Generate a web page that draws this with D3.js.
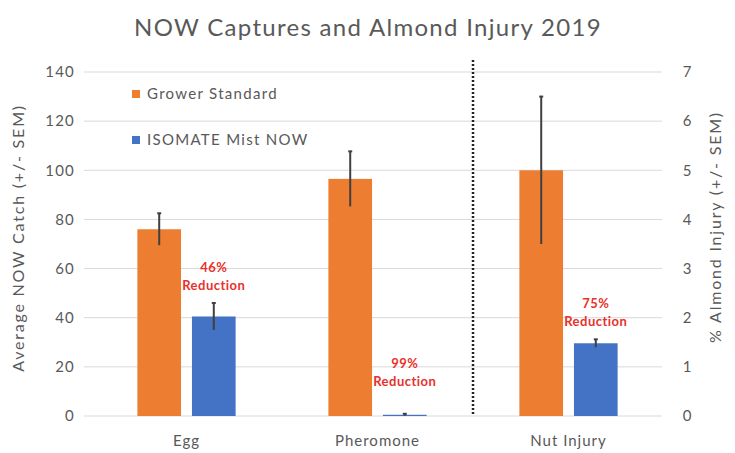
<!DOCTYPE html>
<html>
<head>
<meta charset="utf-8">
<script src="https://cdn.jsdelivr.net/npm/d3@7"></script>
<style>
  body { margin: 0; background: #fff; }
  text { font-family: Lato, "Open Sans", sans-serif; }
</style>
</head>
<body>
<div id="chart"></div>
<script>
// Data
const categories = ["Egg", "Pheromone", "Nut Injury"];
const seriesNames = ["Grower Standard", "ISOMATE Mist NOW"];
const growerValues = [76, 96.5, 5.0];
const growerSEM = [6.5, 11.2, 1.5];
const isomateValues = [40.5, 0.5, 1.48];
const isomateSEM = [5.5, 0.4, 0.08];
const categoryAxis = ["left", "left", "right"];
const reductionLabels = ["46%", "99%", "75%"];
const leftTicks = [0, 20, 40, 60, 80, 100, 120, 140];
const rightTicks = [0, 1, 2, 3, 4, 5, 6, 7];

const W = 735, H = 453;
const colors = ["#ED7D31", "#4472C4"];
const textGray = "#595959";

const svg = d3.select("#chart").append("svg")
  .attr("width", W).attr("height", H);

// Scales
const x0 = d3.scaleBand().domain(categories).range([91, 664]).padding(0);
const x1 = d3.scaleBand().domain(seriesNames)
  .range([0, x0.bandwidth()]).paddingInner(0.2).paddingOuter(0.85);
const yLeft = d3.scaleLinear().domain([0, 140]).range([416, 72]);
const yRight = d3.scaleLinear().domain([0, 7]).range([416, 72]);

// Gridlines
svg.append("g")
  .selectAll("line")
  .data(leftTicks)
  .join("line")
  .attr("x1", 84).attr("x2", 662)
  .attr("y1", d => yLeft(d)).attr("y2", d => yLeft(d))
  .attr("stroke", "#d9d9d9").attr("stroke-width", 1);

// Left axis
const leftAxis = svg.append("g")
  .attr("transform", "translate(75,0)")
  .call(d3.axisLeft(yLeft).tickValues(leftTicks).tickSize(0).tickPadding(0));
leftAxis.select(".domain").remove();
leftAxis.selectAll("text").attr("font-size", 15).attr("fill", textGray)
  .attr("letter-spacing", 1.2)
  .attr("font-family", "Lato, sans-serif");

// Right axis
const rightAxis = svg.append("g")
  .attr("transform", "translate(687,0)")
  .call(d3.axisRight(yRight).tickValues(rightTicks).tickFormat(d3.format("d")).tickSize(0).tickPadding(0));
rightAxis.select(".domain").remove();
rightAxis.selectAll("text").attr("font-size", 15).attr("fill", textGray)
  .attr("text-anchor", "middle")
  .attr("font-family", "Lato, sans-serif");

// Bars
const rows = categories.map((c, i) => ({
  cat: c,
  y: categoryAxis[i] === "left" ? yLeft : yRight,
  vals: [
    { s: seriesNames[0], v: growerValues[i], e: growerSEM[i], c: colors[0] },
    { s: seriesNames[1], v: isomateValues[i], e: isomateSEM[i], c: colors[1] }
  ]
}));

const groups = svg.append("g").selectAll("g")
  .data(rows)
  .join("g")
  .attr("transform", d => `translate(${x0(d.cat)},0)`);

groups.selectAll("rect")
  .data(d => d.vals.map(v => ({ ...v, y: d.y })))
  .join("rect")
  .attr("x", d => x1(d.s))
  .attr("width", x1.bandwidth())
  .attr("y", d => d.y(d.v))
  .attr("height", d => d.y(0) - d.y(d.v))
  .attr("fill", d => d.c);

// Error bars
const errs = groups.selectAll("g.err")
  .data(d => d.vals.map(v => ({ ...v, y: d.y })))
  .join("g").attr("class", "err");
errs.append("line")
  .attr("x1", d => x1(d.s) + x1.bandwidth() / 2)
  .attr("x2", d => x1(d.s) + x1.bandwidth() / 2)
  .attr("y1", d => d.y(d.v + d.e))
  .attr("y2", d => d.y(Math.max(0, d.v - d.e)))
  .attr("stroke", "#404040").attr("stroke-width", 2);
errs.append("line")
  .attr("x1", d => x1(d.s) + x1.bandwidth() / 2 - 2)
  .attr("x2", d => x1(d.s) + x1.bandwidth() / 2 + 2)
  .attr("y1", d => d.y(d.v + d.e))
  .attr("y2", d => d.y(d.v + d.e))
  .attr("stroke", "#404040").attr("stroke-width", 2);

// Reduction annotations
const ann = groups.append("text")
  .attr("text-anchor", "middle")
  .attr("font-size", 13)
  .attr("font-weight", "bold")
  .attr("letter-spacing", 0.5)
  .attr("fill", "#e8312a")
  .attr("x", d => x1(seriesNames[1]) + x1.bandwidth() / 2);
ann.append("tspan")
  .attr("x", d => x1(seriesNames[1]) + x1.bandwidth() / 2)
  .attr("y", (d, i) => i === 1 ? 368 : d.y(d.vals[1].v + d.vals[1].e) - 31)
  .text((d, i) => reductionLabels[i]);
ann.append("tspan")
  .attr("x", d => x1(seriesNames[1]) + x1.bandwidth() / 2)
  .attr("dy", 18)
  .text("Reduction");

// Dotted separator
const sepX = x0(categories[2]);
svg.append("line")
  .attr("x1", sepX).attr("x2", sepX)
  .attr("y1", 60).attr("y2", 416)
  .attr("stroke", "#222").attr("stroke-width", 2.5)
  .attr("stroke-dasharray", "2,2");

// X labels
svg.append("g").selectAll("text")
  .data(categories)
  .join("text")
  .attr("x", d => x0(d) + x0.bandwidth() / 2)
  .attr("y", 446)
  .attr("text-anchor", "middle")
  .attr("font-size", 15)
  .attr("letter-spacing", 1)
  .attr("fill", textGray)
  .text(d => d);

// Legend
const legend = svg.append("g").selectAll("g")
  .data(seriesNames)
  .join("g")
  .attr("transform", (d, i) => `translate(132,${90 + i * 46})`);
legend.append("rect").attr("width", 8).attr("height", 8)
  .attr("fill", (d, i) => colors[i]);
legend.append("text")
  .attr("x", 15).attr("y", 9)
  .attr("font-size", 15)
  .attr("letter-spacing", 1.3)
  .attr("fill", textGray)
  .text(d => d);

// Title
svg.append("text")
  .attr("x", 368).attr("y", 36)
  .attr("text-anchor", "middle")
  .attr("font-size", 24)
  .attr("letter-spacing", 1.3)
  .attr("fill", textGray)
  .text("NOW Captures and Almond Injury 2019");

// Axis titles
svg.append("text")
  .attr("transform", "translate(24,238) rotate(-90)")
  .attr("text-anchor", "middle")
  .attr("font-size", 16)
  .attr("letter-spacing", 1.8)
  .attr("fill", textGray)
  .text("Average NOW Catch (+/- SEM)");
svg.append("text")
  .attr("transform", "translate(721,227) rotate(-90)")
  .attr("text-anchor", "middle")
  .attr("font-size", 16)
  .attr("letter-spacing", 1.8)
  .attr("fill", textGray)
  .text("% Almond Injury (+/- SEM)");
</script>
</body>
</html>
